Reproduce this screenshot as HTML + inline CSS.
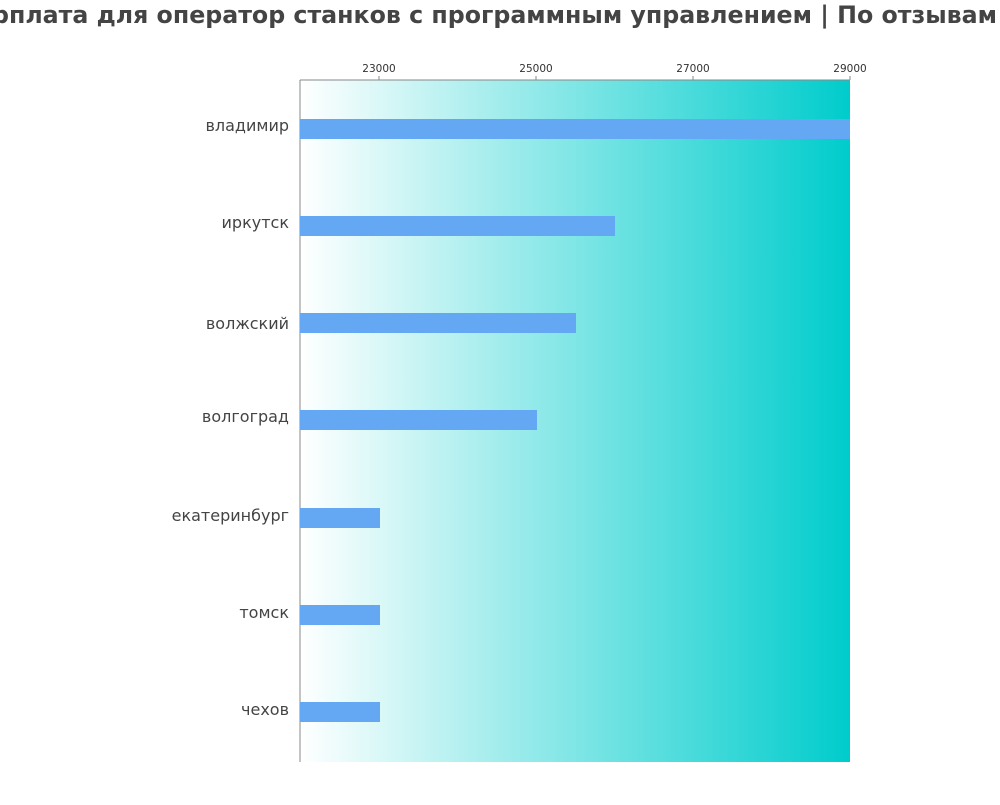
<!DOCTYPE html>
<html><head><meta charset="utf-8"><style>html,body{margin:0;padding:0;background:#fff;overflow:hidden}</style></head>
<body>
<svg width="1000" height="800" xmlns="http://www.w3.org/2000/svg" font-family="DejaVu Sans, Liberation Sans, sans-serif">
<defs><linearGradient id="g" x1="0" x2="1" y1="0" y2="0"><stop offset="0" stop-color="#fff"/><stop offset="1" stop-color="#00cccc"/></linearGradient></defs>
<text x="997" y="23" text-anchor="end" font-size="23.7" font-weight="bold" fill="#444">Зарплата для оператор станков с программным управлением | По отзывам</text>
<rect x="300" y="80" width="550" height="682" fill="url(#g)"/>
<line x1="300" y1="80" x2="850" y2="80" stroke="#888" stroke-width="1"/>
<line x1="300" y1="80" x2="300" y2="762" stroke="#888" stroke-width="1"/>
<g font-size="10.5" fill="#333" text-anchor="middle">
<text x="379" y="72">23000</text><text x="536" y="72">25000</text><text x="693" y="72">27000</text><text x="850" y="72">29000</text>
</g>
<g stroke="#888"><line x1="379" y1="76" x2="379" y2="80"/><line x1="536" y1="76" x2="536" y2="80"/><line x1="693" y1="76" x2="693" y2="80"/><line x1="850" y1="76" x2="850" y2="80"/></g>
<g fill="#64a8f4">
<rect x="300" y="119" width="550" height="20"/>
<rect x="300" y="216" width="315" height="20"/>
<rect x="300" y="313" width="276" height="20"/>
<rect x="300" y="410" width="237" height="20"/>
<rect x="300" y="508" width="80" height="20"/>
<rect x="300" y="605" width="80" height="20"/>
<rect x="300" y="702" width="80" height="20"/>
</g>
<g font-size="16" fill="#444" text-anchor="end">
<text x="289" y="131">владимир</text>
<text x="289" y="228">иркутск</text>
<text x="289" y="329">волжский</text>
<text x="289" y="422">волгоград</text>
<text x="289" y="521">екатеринбург</text>
<text x="289" y="618">томск</text>
<text x="289" y="715">чехов</text>
</g>
</svg>
</body></html>
